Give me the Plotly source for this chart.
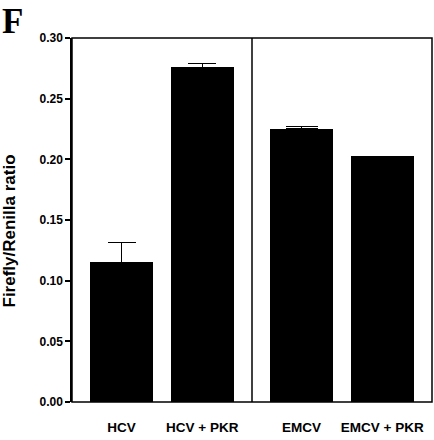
import plotly.graph_objects as go

hcv_labels = ["HCV", "HCV + PKR"]
hcv_values = [0.1151, 0.2758]
hcv_errors = [0.0162, 0.0033]

emcv_labels = ["EMCV", "EMCV + PKR"]
emcv_values = [0.2253, 0.2025]
emcv_errors = [0.0019, 0.0]

y_ticks = [0.00, 0.05, 0.10, 0.15, 0.20, 0.25, 0.30]

FONT = "Liberation Sans, Arial, sans-serif"
YTICKFONT = dict(family=FONT, size=12, color="black", weight="bold")
XTICKFONT = dict(family=FONT, size=13.5, color="black", weight="bold")

fig = go.Figure()
fig.add_trace(go.Bar(
    x=hcv_labels, y=hcv_values, xaxis="x", yaxis="y",
    marker=dict(color="black", line=dict(width=0)), width=0.78,
    error_y=dict(type="data", array=hcv_errors, arrayminus=[0, 0], symmetric=False,
                 color="black", thickness=1.5, width=14),
    showlegend=False,
))
fig.add_trace(go.Bar(
    x=emcv_labels, y=emcv_values, xaxis="x2", yaxis="y",
    marker=dict(color="black", line=dict(width=0)), width=0.78,
    error_y=dict(type="data", array=emcv_errors, arrayminus=[0, 0], symmetric=False,
                 color="black", thickness=1.5, width=16),
    showlegend=False,
))

xcommon = dict(type="category", range=[-0.613, 1.615], showline=False, ticks="",
               showgrid=False, zeroline=False, ticklabelstandoff=15,
               tickfont=XTICKFONT)
fig.update_layout(
    width=434, height=440,
    margin=dict(l=72, r=2, t=38, b=38),
    plot_bgcolor="white", paper_bgcolor="white",
    bargap=0,
    xaxis=dict(domain=[0, 0.5], anchor="y", **xcommon),
    xaxis2=dict(domain=[0.5, 1], anchor="y", **xcommon),
    yaxis=dict(range=[0, 0.30], tickvals=y_ticks, tickformat=".2f",
               showline=True, linecolor="black", linewidth=1.5,
               ticks="outside", ticklen=5, tickwidth=1.5, tickcolor="black",
               showgrid=False, zeroline=False,
               tickfont=YTICKFONT),
    shapes=[
        dict(type="rect", xref="paper", yref="paper", x0=0, x1=1, y0=0, y1=1,
             line=dict(color="black", width=1.5)),
        dict(type="line", xref="paper", yref="paper", x0=0.5, x1=0.5, y0=0, y1=1,
             line=dict(color="black", width=1.5)),
    ],
    annotations=[
        dict(text="<b>F</b>", xref="paper", yref="paper", x=-72/360, y=1 + 38/364,
             xanchor="left", yanchor="top", xshift=0, yshift=0, showarrow=False,
             font=dict(family="Liberation Serif, Times New Roman, serif", size=35, color="black")),
        dict(text="<b>Firefly/Renilla ratio</b>", xref="paper", yref="paper",
             x=(8.5 - 72) / 360, y=(402 - 231) / 364, xanchor="center", yanchor="middle",
             textangle=-90, showarrow=False,
             font=dict(family=FONT, size=17, color="black")),
    ],
)
fig.write_html("out.html")
